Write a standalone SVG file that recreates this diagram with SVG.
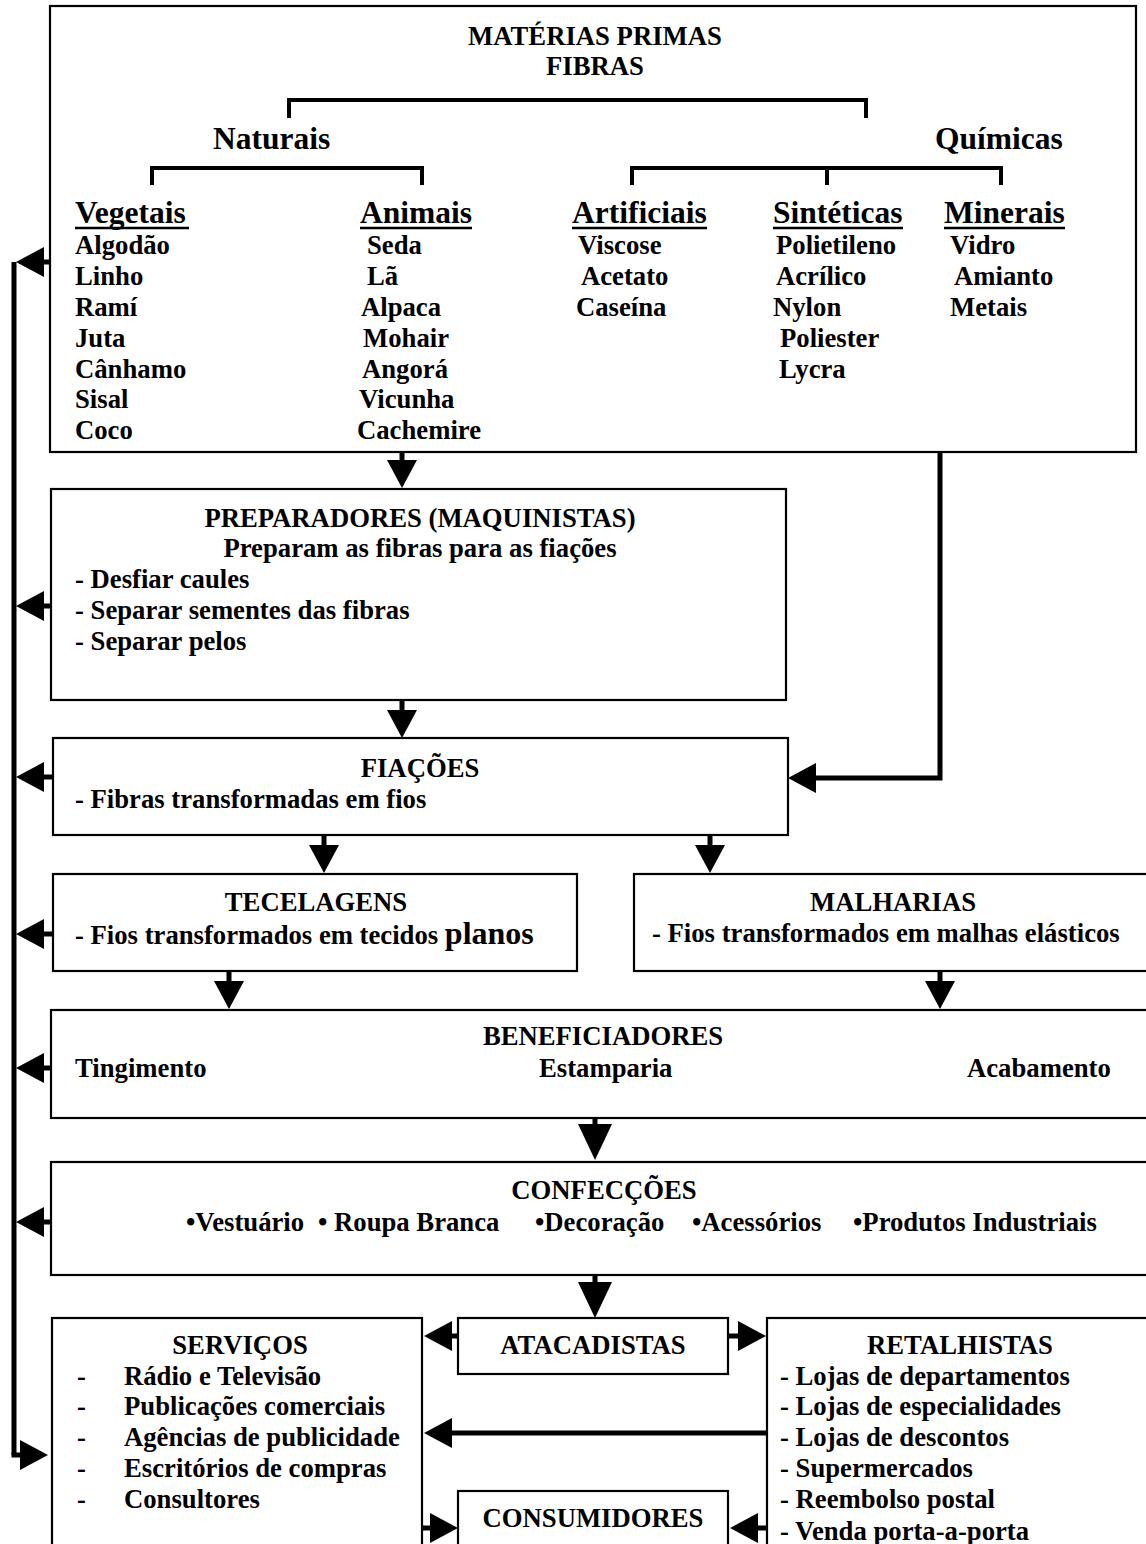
<svg xmlns="http://www.w3.org/2000/svg" width="1146" height="1544" viewBox="0 0 1146 1544">
  <style>
    text { font-family: "Liberation Serif", "Times New Roman", serif; font-weight: bold; fill: #000; }
    .t { font-size: 26.7px; }
    .h { font-size: 31.5px; }
    .c { text-anchor: middle; }
    .box { fill: #fff; stroke: #000; stroke-width: 2.2; }
    .br { fill: none; stroke: #000; stroke-width: 4; }
    .ul { stroke: #000; stroke-width: 2.5; }
    .cn { fill: none; stroke: #000; stroke-width: 5; marker-end: url(#ah); }
    .cn2 { fill: none; stroke: #000; stroke-width: 5; marker-end: url(#ah2); }
    .bus { fill: none; stroke: #000; stroke-width: 5; }
  </style>
  <defs>
    <marker id="ah" markerUnits="userSpaceOnUse" viewBox="0 -15 28 30" markerWidth="28" markerHeight="30" refX="0" refY="0" orient="auto">
      <path d="M0,-15 L28,0 L0,15 z" fill="#000"/>
    </marker>
    <marker id="ah2" markerUnits="userSpaceOnUse" viewBox="0 -17 36 34" markerWidth="36" markerHeight="34" refX="0" refY="0" orient="auto">
      <path d="M0,-17 L36,0 L0,17 z" fill="#000"/>
    </marker>
  </defs>
  <rect width="1146" height="1544" fill="#fff"/>

  <!-- raw materials: fibre classification -->
  <g id="materias-primas">
    <rect class="box" x="50" y="6" width="1086" height="446"/>
    <text class="t c" x="595" y="45">MATÉRIAS PRIMAS</text>
    <text class="t c" x="595" y="75">FIBRAS</text>
    <path class="br" d="M289,118 V100 H866 V118"/>
    <text class="h" x="213" y="149">Naturais</text>
    <text class="h" x="935" y="149">Químicas</text>
    <path class="br" d="M152,185 V168 H422 V185"/>
    <path class="br" d="M632,185 V168 H1001 V185 M827,168 V185"/>
    <text class="h" x="75" y="223">Vegetais</text>
    <text class="h" x="360" y="223">Animais</text>
    <text class="h" x="572" y="223">Artificiais</text>
    <text class="h" x="773" y="223">Sintéticas</text>
    <text class="h" x="944" y="223">Minerais</text>
    <path class="ul" d="M75,228 H189 M360,228 H472 M572,228 H707 M773,228 H903 M944,228 H1065"/>
    <g>
      <text class="t" x="75" y="254">Algodão</text>
      <text class="t" x="75" y="285">Linho</text>
      <text class="t" x="75" y="316">Ramí</text>
      <text class="t" x="75" y="347">Juta</text>
      <text class="t" x="75" y="378">Cânhamo</text>
      <text class="t" x="75" y="408">Sisal</text>
      <text class="t" x="75" y="439">Coco</text>

      <text class="t" x="367" y="254">Seda</text>
      <text class="t" x="367" y="285">Lã</text>
      <text class="t" x="361" y="316">Alpaca</text>
      <text class="t" x="363" y="347">Mohair</text>
      <text class="t" x="362" y="378">Angorá</text>
      <text class="t" x="359" y="408">Vicunha</text>
      <text class="t" x="357" y="439">Cachemire</text>

      <text class="t" x="578" y="254">Viscose</text>
      <text class="t" x="581" y="285">Acetato</text>
      <text class="t" x="576" y="316">Caseína</text>

      <text class="t" x="776" y="254">Polietileno</text>
      <text class="t" x="776" y="285">Acrílico</text>
      <text class="t" x="773" y="316">Nylon</text>
      <text class="t" x="780" y="347">Poliester</text>
      <text class="t" x="779" y="378">Lycra</text>

      <text class="t" x="950" y="254">Vidro</text>
      <text class="t" x="954" y="285">Amianto</text>
      <text class="t" x="950" y="316">Metais</text>
    </g>
  </g>

  <g id="preparadores">
    <rect class="box" x="51" y="489" width="735" height="211"/>
    <text class="t c" x="420" y="527">PREPARADORES (MAQUINISTAS)</text>
    <text class="t c" x="420" y="557">Preparam as fibras para as fiações</text>
    <text class="t" x="75" y="588">- Desfiar caules</text>
    <text class="t" x="75" y="619">- Separar sementes das fibras</text>
    <text class="t" x="75" y="650">- Separar pelos</text>
  </g>

  <g id="fiacoes">
    <rect class="box" x="53" y="738" width="735" height="97"/>
    <text class="t c" x="420" y="777">FIAÇÕES</text>
    <text class="t" x="75" y="808">- Fibras transformadas em fios</text>
  </g>

  <g id="tecelagens">
    <rect class="box" x="53" y="874" width="524" height="97"/>
    <text class="t c" x="316" y="911">TECELAGENS</text>
    <text class="t" x="75" y="944">- Fios transformados em tecidos <tspan font-size="32">planos</tspan></text>
  </g>

  <g id="malharias">
    <rect class="box" x="634" y="874" width="530" height="97"/>
    <text class="t c" x="893" y="911">MALHARIAS</text>
    <text class="t" x="652" y="942">- Fios transformados em malhas elásticos</text>
  </g>

  <g id="beneficiadores">
    <rect class="box" x="51" y="1010" width="1110" height="108"/>
    <text class="t c" x="603" y="1045">BENEFICIADORES</text>
    <text class="t" x="75" y="1077">Tingimento</text>
    <text class="t" x="539" y="1077">Estamparia</text>
    <text class="t" x="967" y="1077">Acabamento</text>
  </g>

  <g id="confeccoes">
    <rect class="box" x="51" y="1162" width="1110" height="113"/>
    <text class="t c" x="604" y="1199">CONFECÇÕES</text>
    <text class="t" x="186" y="1231">•Vestuário</text>
    <text class="t" x="318" y="1231">• Roupa Branca</text>
    <text class="t" x="535" y="1231">•Decoração</text>
    <text class="t" x="692" y="1231">•Acessórios</text>
    <text class="t" x="853" y="1231">•Produtos Industriais</text>
  </g>

  <g id="servicos">
    <rect class="box" x="52" y="1318" width="370" height="250"/>
    <text class="t c" x="240" y="1354">SERVIÇOS</text>
    <text class="t" x="77" y="1385">-</text><text class="t" x="124" y="1385">Rádio e Televisão</text>
    <text class="t" x="77" y="1415">-</text><text class="t" x="124" y="1415">Publicações comerciais</text>
    <text class="t" x="77" y="1446">-</text><text class="t" x="124" y="1446">Agências de publicidade</text>
    <text class="t" x="77" y="1477">-</text><text class="t" x="124" y="1477">Escritórios de compras</text>
    <text class="t" x="77" y="1508">-</text><text class="t" x="124" y="1508">Consultores</text>
  </g>

  <g id="atacadistas">
    <rect class="box" x="458" y="1318" width="270" height="56"/>
    <text class="t c" x="593" y="1354">ATACADISTAS</text>
  </g>

  <g id="consumidores">
    <rect class="box" x="458" y="1491" width="270" height="80"/>
    <text class="t c" x="593" y="1527">CONSUMIDORES</text>
  </g>

  <g id="retalhistas">
    <rect class="box" x="767" y="1318" width="400" height="250"/>
    <text class="t c" x="960" y="1354">RETALHISTAS</text>
    <text class="t" x="780" y="1385">- Lojas de departamentos</text>
    <text class="t" x="780" y="1415">- Lojas de especialidades</text>
    <text class="t" x="780" y="1446">- Lojas de descontos</text>
    <text class="t" x="780" y="1477">- Supermercados</text>
    <text class="t" x="780" y="1508">- Reembolso postal</text>
    <text class="t" x="780" y="1540">- Venda porta-a-porta</text>
  </g>

  <g id="connectors">
    <!-- main production chain -->
    <path class="cn" d="M402,452 V460"/>
    <path class="cn" d="M402,700 V710"/>
    <path class="cn" d="M940,452 V778 H816"/>
    <path class="cn" d="M324,835 V845"/>
    <path class="cn" d="M710,835 V845"/>
    <path class="cn" d="M229,971 V981"/>
    <path class="cn" d="M940,971 V981"/>
    <path class="cn2" d="M595,1118 V1124"/>
    <path class="cn2" d="M595,1275 V1282"/>
    <!-- distribution -->
    <path class="cn" d="M458,1336 H452"/>
    <path class="cn" d="M728,1336 H738"/>
    <path class="cn" d="M767,1433 H452"/>
    <path class="cn" d="M422,1528 H430"/>
    <path class="cn" d="M767,1528 H758"/>
    <!-- feedback bus to services -->
    <path class="bus" d="M14,262 V1455"/>
    <path class="cn" d="M11.5,1455 H20"/>
    <path class="cn" d="M51,262 H44"/>
    <path class="cn" d="M51,606 H44"/>
    <path class="cn" d="M53,777 H44"/>
    <path class="cn" d="M53,934 H44"/>
    <path class="cn" d="M51,1068 H44"/>
    <path class="cn" d="M51,1222 H44"/>
  </g>
</svg>
